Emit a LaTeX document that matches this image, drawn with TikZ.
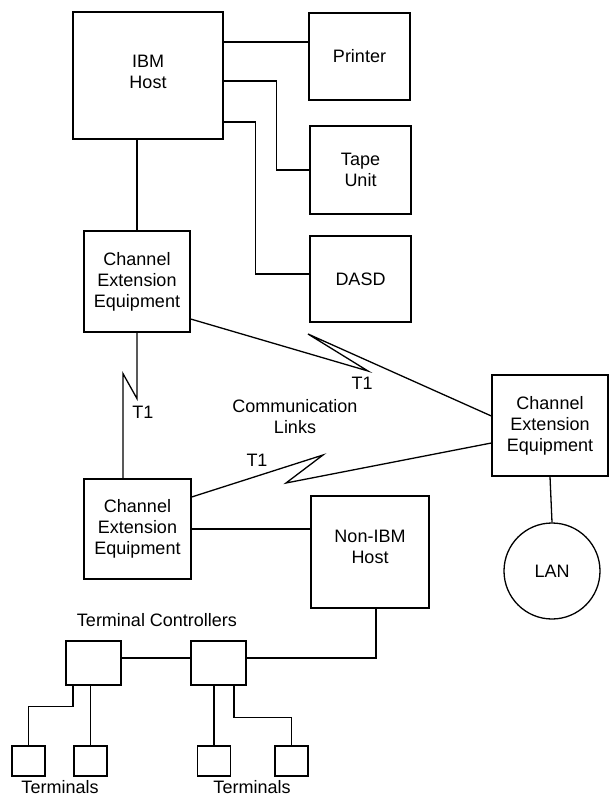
\documentclass[tikz,border=0pt]{standalone}
\usepackage{fontspec}
\setmainfont{Liberation Sans}
\begin{document}
\begin{tikzpicture}[x=1pt, y=-1pt, line width=1.3pt,
    font=\fontsize{18}{21}\selectfont,
    unit/.style={draw, rectangle, align=center, inner sep=0pt},
    termbox/.style={draw, rectangle, inner sep=0pt, minimum width=33pt, minimum height=30pt},
    ctrlbox/.style={draw, rectangle, inner sep=0pt, minimum width=55pt, minimum height=44pt}]
    \useasboundingbox (0, 0) rectangle (610, 797);

    % Host IBM e periferiche
    \node[unit, minimum width=150pt, minimum height=127pt] (ibm) at (148, 75.5) {IBM\\Host\\[-13pt]};
    \node[unit, minimum width=101pt, minimum height=87pt] (printer) at (359.5, 56.5) {Printer};
    \node[unit, minimum width=101pt, minimum height=88pt] (tape) at (360.5, 170) {Tape\\Unit};
    \node[unit, minimum width=101pt, minimum height=86pt] (dasd) at (360.5, 279) {DASD};

    % Channel extension
    \node[unit, minimum width=106pt, minimum height=101pt] (cee1) at (137, 281.5) {Channel\\Extension\\Equipment};
    \node[unit, minimum width=107pt, minimum height=100pt] (cee2) at (137.5, 529) {Channel\\Extension\\Equipment};
    \node[unit, minimum width=116pt, minimum height=101pt] (cee3) at (550, 425.5) {Channel\\Extension\\Equipment};
    \node[unit, minimum width=118pt, minimum height=112pt] (nonibm) at (370, 552) {Non-IBM\\Host\\[-11pt]};
    \node[draw, circle, inner sep=0pt, minimum size=96pt] (lan) at (552, 571) {LAN};

    % Terminal controllers e terminali
    \node (tclabel) at (157, 620) {Terminal Controllers};
    \node[ctrlbox] (tc1) at (93.5, 663) {};
    \node[ctrlbox] (tc2) at (218.5, 663) {};
    \node[termbox] (t1) at (28.5, 761) {};
    \node[termbox] (t2) at (90.5, 761) {};
    \node[termbox] (t3) at (214, 761) {};
    \node[termbox] (t4) at (291.5, 761) {};
    \node (tlabel1) at (60, 787) {Terminals};
    \node (tlabel2) at (252, 787) {Terminals};

    % Etichette dei link
    \node (t1a) at (143, 412) {T1};
    \node (t1b) at (362, 383) {T1};
    \node (t1c) at (257, 460) {T1};
    \node[align=center] (comm) at (295, 417) {Communication\\Links};

    % Collegamenti del host
    \draw ([yshift=33.5pt]ibm.east) -- ([yshift=33.5pt]ibm.east -| printer.west);
    \draw ([yshift=-5.5pt]ibm.east) -- ++(53, 0) |- (tape.west);
    \draw ([yshift=-46.5pt]ibm.east) -- ++(32, 0) |- ([yshift=5pt]dasd.west);
    \draw (cee1.north) -- (cee1.north |- ibm.south);

    % Link T1 (a zig-zag)
    \draw (cee1.south) -- ++(0, 66) -- ++(-14, -25) coordinate (zz) -- (zz |- cee2.north);
    \draw ([yshift=-37.5pt]cee1.east) -- (368, 371) -- (308, 334) -- ([yshift=9.5pt]cee3.west);
    \draw ([yshift=32pt]cee2.east) -- (323, 455) -- (286, 483) -- ([yshift=-17.5pt]cee3.west);

    % Altri collegamenti
    \draw (cee2.east) -- (cee2.east -| nonibm.west);
    \draw (cee3.south) -- (lan.north);
    \draw ([xshift=6pt]nonibm.south) |- ([yshift=5pt]tc2.east);
    \draw ([yshift=5pt]tc1.east) -- ([yshift=5pt]tc2.west);
    \draw ([xshift=-20.5pt]tc1.south) -- ++(0, 21) -| (t1.north);
    \draw (t2.north |- tc1.south) -- (t2.north);
    \draw (t3.north |- tc2.south) -- (t3.north);
    \draw ([xshift=15.5pt]tc2.south) -- ++(0, 32) -| (t4.north);
\end{tikzpicture}
\end{document}
